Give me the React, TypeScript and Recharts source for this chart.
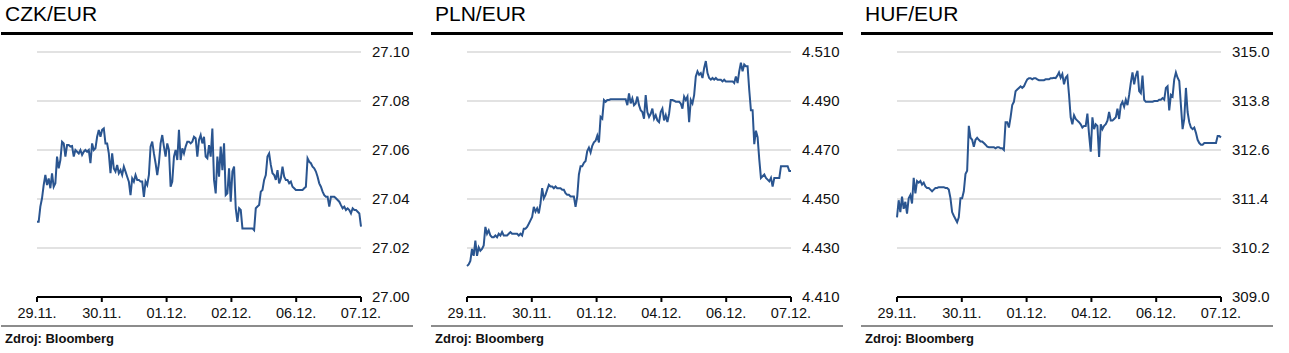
import { LineChart, Line, XAxis, YAxis, CartesianGrid } from "recharts";

const dayLabels = ["29.11.", "30.11.", "01.12.", "02.12.", "06.12.", "07.12."];
const dayLabelsPlnHuf = ["29.11.", "30.11.", "01.12.", "04.12.", "06.12.", "07.12."];

const czkTicks = [27.0, 27.02, 27.04, 27.06, 27.08, 27.1];
const plnTicks = [4.41, 4.43, 4.45, 4.47, 4.49, 4.51];
const hufTicks = [309.0, 310.2, 311.4, 312.6, 313.8, 315.0];

const czkValues = [
  27.0307, 27.0307, 27.0369, 27.0403, 27.0457, 27.0498, 27.0457, 27.0484, 27.0444, 27.0505,
  27.045, 27.0464, 27.0573, 27.0525, 27.0559, 27.0634, 27.0627, 27.0573, 27.062, 27.062,
  27.0614, 27.0616, 27.0573, 27.06, 27.0593, 27.0586, 27.06, 27.058, 27.0593, 27.06,
  27.0593, 27.06, 27.0546, 27.0627, 27.06, 27.0607, 27.0654, 27.0682, 27.0654, 27.0682,
  27.0688, 27.0627, 27.0627, 27.0586, 27.0505, 27.0586, 27.0525, 27.0512, 27.0539, 27.0505,
  27.0518, 27.0498, 27.0532, 27.0512, 27.0491, 27.0471, 27.0416, 27.0484, 27.0471, 27.0498,
  27.0478, 27.0478, 27.0471, 27.0471, 27.0409, 27.0471, 27.0457, 27.0498, 27.0614, 27.0634,
  27.0586, 27.0546, 27.0498, 27.0546, 27.0627, 27.0661, 27.0614, 27.0573, 27.0627, 27.06,
  27.045, 27.0471, 27.0573, 27.06, 27.0559, 27.0682, 27.0559, 27.0607, 27.0586, 27.0614,
  27.0634, 27.0634, 27.0627, 27.0634, 27.0654, 27.0648, 27.0573, 27.0641, 27.0661, 27.0627,
  27.0654, 27.0573, 27.0566, 27.062, 27.0573, 27.0688, 27.0478, 27.0423, 27.0573, 27.0491,
  27.0614, 27.0518, 27.0627, 27.0416, 27.0423, 27.0525, 27.0389, 27.0512, 27.0532, 27.0362,
  27.0307, 27.0362, 27.0355, 27.028, 27.028, 27.028, 27.028, 27.028, 27.028, 27.028,
  27.0273, 27.0362, 27.0369, 27.0375, 27.043, 27.0437, 27.0478, 27.0498, 27.0573, 27.0586,
  27.0539, 27.0505, 27.0498, 27.0478, 27.0518, 27.0464, 27.0484, 27.0532, 27.0491, 27.0478,
  27.0478, 27.0464, 27.0471, 27.045, 27.0444, 27.0437, 27.0437, 27.0437, 27.0437, 27.0437,
  27.0444, 27.045, 27.0566, 27.0552, 27.0546, 27.0532, 27.0525, 27.0512, 27.0491, 27.0464,
  27.045, 27.043, 27.0416, 27.0409, 27.0409, 27.0369, 27.0409, 27.0409, 27.0409, 27.0403,
  27.0396, 27.0389, 27.0375, 27.0362, 27.0369, 27.0355, 27.0362, 27.0355, 27.0341, 27.0362,
  27.0355, 27.0355, 27.0348, 27.0341, 27.0287,
];

const plnValues = [
  4.4227, 4.4233, 4.4247, 4.4296, 4.4268, 4.433, 4.4268, 4.4303, 4.4289, 4.4296,
  4.431, 4.4386, 4.4358, 4.4372, 4.4351, 4.4344, 4.4344, 4.4351, 4.4344, 4.4358,
  4.4351, 4.4365, 4.4351, 4.4351, 4.4351, 4.4358, 4.4365, 4.4358, 4.4358, 4.4358,
  4.4358, 4.4351, 4.4358, 4.4351, 4.4379, 4.4379, 4.4386, 4.4399, 4.4413, 4.4427,
  4.4468, 4.4448, 4.4462, 4.4441, 4.4482, 4.4544, 4.4503, 4.4517, 4.4538, 4.4558,
  4.4551, 4.4551, 4.4544, 4.4551, 4.4544, 4.4544, 4.4544, 4.4538, 4.4538, 4.4524,
  4.4517, 4.4517, 4.451, 4.451, 4.451, 4.4468, 4.451, 4.46, 4.4634, 4.4634,
  4.4648, 4.4655, 4.4696, 4.471, 4.469, 4.4717, 4.4731, 4.4738, 4.4759, 4.4731,
  4.4835, 4.4828, 4.4904, 4.4897, 4.4904, 4.4904, 4.4907, 4.4907, 4.4907, 4.4907,
  4.4907, 4.4907, 4.4907, 4.4907, 4.4907, 4.4907, 4.4883, 4.4931, 4.489, 4.4911,
  4.4883, 4.489, 4.4918, 4.4883, 4.4862, 4.4855, 4.4828, 4.4924, 4.4855, 4.4835,
  4.4848, 4.4869, 4.4828, 4.4842, 4.4821, 4.4814, 4.4855, 4.4869, 4.4821, 4.4842,
  4.4814, 4.4848, 4.4904, 4.4904, 4.4901, 4.4897, 4.4897, 4.4897, 4.489, 4.4869,
  4.4918, 4.4904, 4.4918, 4.4814, 4.4904, 4.489, 4.4924, 4.5, 4.5021, 4.5007,
  4.5014, 4.4994, 4.5035, 4.5063, 4.5014, 4.4994, 4.4987, 4.4994, 4.4987, 4.4994,
  4.4987, 4.4987, 4.4987, 4.498, 4.4987, 4.498, 4.498, 4.498, 4.498, 4.498,
  4.4973, 4.5, 4.4973, 4.5021, 4.5056, 4.5021, 4.5049, 4.5042, 4.5042, 4.4945,
  4.4862, 4.4862, 4.4724, 4.4779, 4.4752, 4.4662, 4.4586, 4.4593, 4.46, 4.4586,
  4.4579, 4.4572, 4.4586, 4.4551, 4.4586, 4.4586, 4.4586, 4.4586, 4.4634, 4.4634,
  4.4634, 4.4634, 4.4634, 4.4614, 4.4614,
];

const hufValues = [
  310.95, 311.37, 311.08, 311.46, 311.16, 311.33, 311.04, 311.42, 311.5, 311.29,
  311.92, 311.54, 311.84, 311.8, 311.84, 311.75, 311.8, 311.71, 311.67, 311.67,
  311.63, 311.59, 311.63, 311.67, 311.67, 311.69, 311.69, 311.69, 311.69, 311.67,
  311.67, 311.63, 311.42, 311.08, 310.99, 310.91, 310.83, 310.95, 311.42, 311.42,
  311.59, 312.01, 312.09, 313.19, 312.9, 312.85, 312.68, 312.85, 312.9, 312.85,
  312.81, 312.81, 312.77, 312.73, 312.68, 312.67, 312.67, 312.67, 312.67, 312.64,
  312.67, 312.67, 312.64, 312.64, 312.6, 313.28, 313.28, 313.15, 313.4, 313.7,
  313.78, 314.04, 314.08, 314.12, 314.16, 314.12, 314.16, 314.25, 314.33, 314.36,
  314.36, 314.33, 314.36, 314.36, 314.33, 314.31, 314.31, 314.31, 314.31, 314.33,
  314.33, 314.33, 314.36, 314.36, 314.37, 314.36, 314.42, 314.5, 314.37, 314.46,
  314.21, 314.37, 314.42, 313.95, 313.4, 313.23, 313.45, 313.36, 313.32, 313.28,
  313.23, 313.15, 313.19, 313.19, 313.49, 312.98, 312.56, 313.4, 313.11, 313.23,
  313.19, 312.43, 313.23, 313.11, 313.19, 313.23, 313.32, 313.53, 313.32, 313.32,
  313.36, 313.4, 313.61, 313.36, 313.7, 313.78, 313.66, 313.83, 313.7, 313.95,
  314.25, 314.5, 314.21, 314.42, 314.54, 314.04, 313.99, 314.42, 313.83, 313.78,
  313.78, 313.78, 313.78, 313.78, 313.8, 313.8, 313.8, 313.83, 313.83, 313.87,
  313.83, 314.12, 314.16, 313.57, 313.95, 313.91, 314.33, 314.5, 314.37, 314.29,
  313.7, 313.11, 313.36, 314.12, 313.53, 313.28, 313.15, 313.11, 313.15, 313.02,
  312.85, 312.77, 312.73, 312.73, 312.77, 312.77, 312.77, 312.77, 312.77, 312.77,
  312.77, 312.77, 312.94, 312.94, 312.91,
];

const FONT = "'Liberation Sans', Arial, sans-serif";
const LINE_COLOR = "#2a5590";

const toRows = (values: number[]) =>
  values.map((v, i) => ({ t: (i * 5) / (values.length - 1), v }));

type PanelProps = {
  left: number;
  title: string;
  values: number[];
  yTicks: number[];
  digits: number;
  xLabels: string[];
};

const Panel = ({ left, title, values, yTicks, digits, xLabels }: PanelProps) => {
  const rows = toRows(values);
  return (
    <div style={{ position: "absolute", left, top: 0, width: 412, height: 353 }}>
      <div
        style={{
          position: "absolute",
          left: 4,
          top: 2,
          fontSize: 21,
          color: "#000",
          lineHeight: "24px",
        }}
      >
        {title}
      </div>
      <div style={{ position: "absolute", left: 0, top: 32, width: 412, height: 3, background: "#000" }} />
      <div style={{ position: "absolute", left: 0, top: 0 }}>
        <LineChart
          width={412}
          height={325}
          data={rows}
          margin={{ top: 52, right: 0, bottom: 6, left: 36 }}
        >
          <CartesianGrid vertical={false} stroke="#d9d9d9" strokeWidth={1.5} />
          <XAxis
            dataKey="t"
            type="number"
            domain={[0, 5]}
            ticks={[0, 1, 2, 3, 4, 5]}
            tickFormatter={(i: number) => xLabels[i]}
            height={22}
            axisLine={{ stroke: "#000", strokeWidth: 2 }}
            tickLine={{ stroke: "#000", strokeWidth: 2 }}
            tickSize={5}
            tickMargin={6}
            tick={{ fill: "#111", fontSize: 14.5, fontFamily: FONT }}
            interval={0}
          />
          <YAxis
            orientation="right"
            type="number"
            domain={[yTicks[0], yTicks[yTicks.length - 1]]}
            ticks={yTicks}
            tickFormatter={(v: number) => v.toFixed(digits)}
            width={52}
            axisLine={false}
            tickLine={false}
            tickSize={0}
            tickMargin={11}
            tick={{ fill: "#111", fontSize: 15, fontFamily: FONT, textAnchor: "start" }}
            interval={0}
          />
          <Line
            type="linear"
            dataKey="v"
            stroke={LINE_COLOR}
            strokeWidth={2}
            dot={false}
            isAnimationActive={false}
          />
        </LineChart>
      </div>
      <div style={{ position: "absolute", left: 0, top: 325, width: 412, height: 2, background: "#8c8c8c" }} />
      <div
        style={{
          position: "absolute",
          left: 4,
          top: 331,
          fontSize: 13,
          fontWeight: "bold",
          color: "#111",
          lineHeight: "16px",
        }}
      >
        Zdroj: Bloomberg
      </div>
    </div>
  );
};

export default function App() {
  return (
    <div
      style={{
        position: "absolute",
        left: 0,
        top: 0,
        width: 1289,
        height: 353,
        background: "#fff",
        fontFamily: FONT,
      }}
    >
      <Panel left={1} title="CZK/EUR" values={czkValues} yTicks={czkTicks} digits={2} xLabels={dayLabels} />
      <Panel left={431} title="PLN/EUR" values={plnValues} yTicks={plnTicks} digits={3} xLabels={dayLabelsPlnHuf} />
      <Panel left={861} title="HUF/EUR" values={hufValues} yTicks={hufTicks} digits={1} xLabels={dayLabelsPlnHuf} />
    </div>
  );
}
